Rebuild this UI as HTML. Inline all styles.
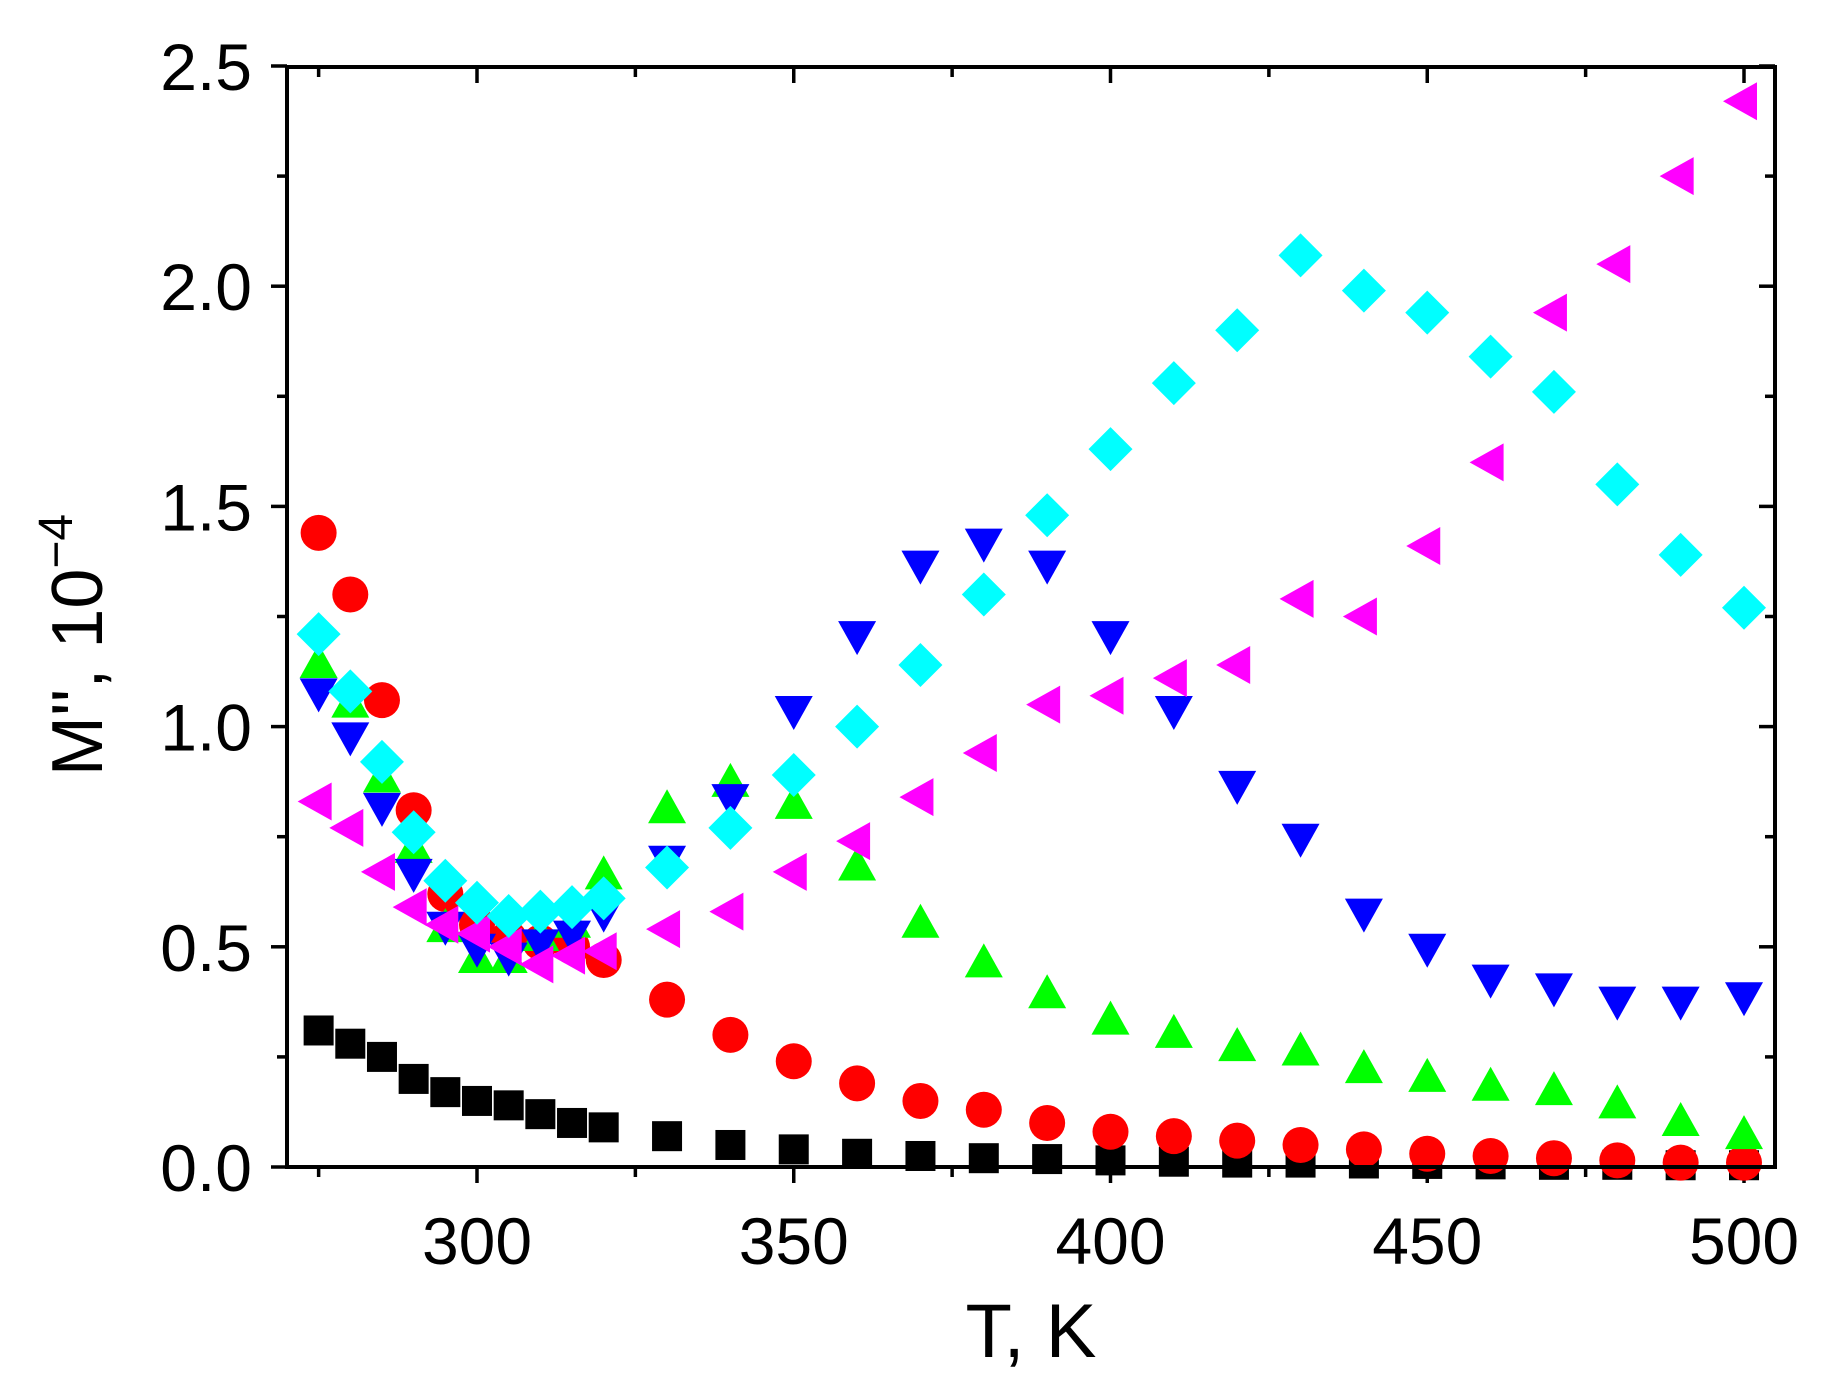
<!DOCTYPE html>
<html><head><meta charset="utf-8"><style>
html,body{margin:0;padding:0;background:#fff;}
svg{display:block;}
text{font-family:"Liberation Sans",sans-serif;fill:#000;}
</style></head><body>
<svg id="s" width="1821" height="1388" viewBox="0 0 1821 1388" xmlns="http://www.w3.org/2000/svg">
<rect width="1821" height="1388" fill="#fff"/>
<g id="ticks" stroke="#000" stroke-width="3.5"></g>
<g id="pts"></g>
<rect x="287" y="67" width="1488" height="1100" fill="none" stroke="#000" stroke-width="4"/>
<g id="lab" font-size="66"></g>
<text x="1031" y="1357" font-size="76" text-anchor="middle">T, K</text>
<text transform="translate(102,645) rotate(-90)" font-size="72" text-anchor="middle">M'', 10<tspan dy="-30" font-size="48">−4</tspan></text>
</svg>
<script>
var NS="http://www.w3.org/2000/svg";
function X(k){return 477+(k-300)*6.335;}
function Y(v){return 1167-v*440.4;}
function el(p,t,a){var e=document.createElementNS(NS,t);for(var k in a)e.setAttribute(k,a[k]);p.appendChild(e);return e;}
var tk=document.getElementById('ticks'),lab=document.getElementById('lab'),pts=document.getElementById('pts');
for(var k=275;k<=500;k+=25){var maj=(k%50==0),L=maj?16:10,x=X(k);
 el(tk,'line',{x1:x,y1:1167,x2:x,y2:1167+L});el(tk,'line',{x1:x,y1:67,x2:x,y2:67+L});
 if(maj){var t=el(lab,'text',{x:x,y:1264,'text-anchor':'middle'});t.textContent=k;}}
for(var i=0;i<=10;i++){var v=i*0.25,maj=(i%2==0),L=maj?16:10,y=Y(v);
 el(tk,'line',{x1:287,y1:y,x2:287-L,y2:y});el(tk,'line',{x1:1775,y1:y,x2:1775-L,y2:y});
 if(maj){var t=el(lab,'text',{x:252,y:y+24,'text-anchor':'end'});t.textContent=v.toFixed(1);}}
var T=[275,280,285,290,295,300,305,310,315,320,330,340,350,360,370,380,390,400,410,420,430,440,450,460,470,480,490,500];
var S={
sq:[.31,.28,.25,.20,.17,.15,.14,.12,.10,.09,.07,.05,.04,.03,.025,.02,.018,.015,.012,.01,.01,.008,.007,.006,.005,.005,.004,.004],
ci:[1.44,1.30,1.06,.81,.62,.55,.52,.51,.50,.47,.38,.30,.24,.19,.15,.13,.10,.08,.07,.06,.05,.04,.03,.025,.02,.015,.01,.01],
up:[1.14,1.05,.88,.72,.54,.47,.47,.52,.55,.66,.81,.87,.82,.68,.55,.46,.39,.33,.30,.27,.26,.22,.20,.18,.17,.14,.10,.07],
dn:[1.08,.98,.82,.67,.55,.50,.48,.51,.53,.58,.70,.84,1.04,1.21,1.37,1.42,1.37,1.21,1.04,.87,.75,.58,.50,.43,.41,.38,.38,.39],
lt:[.83,.77,.67,.59,.55,.53,.50,.46,.48,.49,.54,.58,.67,.74,.84,.94,1.05,1.07,1.11,1.14,1.29,1.25,1.41,1.60,1.94,2.05,2.25,2.42],
di:[1.21,1.08,.92,.76,.65,.60,.57,.58,.59,.61,.68,.77,.89,1.00,1.14,1.30,1.48,1.63,1.78,1.90,2.07,1.99,1.94,1.84,1.76,1.55,1.39,1.27]};
function mk(type,x,y){
 if(type=='sq')el(pts,'rect',{x:x-15,y:y-15,width:30,height:30,fill:'#000'});
 else if(type=='ci')el(pts,'circle',{cx:x,cy:y,r:18,fill:'#ff0000'});
 else if(type=='up')el(pts,'polygon',{points:(x)+','+(y-21)+' '+(x-19)+','+(y+13)+' '+(x+19)+','+(y+13),fill:'#00ff00'});
 else if(type=='dn')el(pts,'polygon',{points:(x)+','+(y+21)+' '+(x-19)+','+(y-13)+' '+(x+19)+','+(y-13),fill:'#0000ff'});
 else if(type=='lt')el(pts,'polygon',{points:(x-21)+','+y+' '+(x+13)+','+(y-19)+' '+(x+13)+','+(y+19),fill:'#ff00ff'});
 else if(type=='di')el(pts,'polygon',{points:x+','+(y-22)+' '+(x+22)+','+y+' '+x+','+(y+22)+' '+(x-22)+','+y,fill:'#00ffff'});}
['sq','ci','up','dn','lt','di'].forEach(function(s){S[s].forEach(function(v,i){mk(s,X(T[i]),Y(v));});});
</script>
</body></html>
